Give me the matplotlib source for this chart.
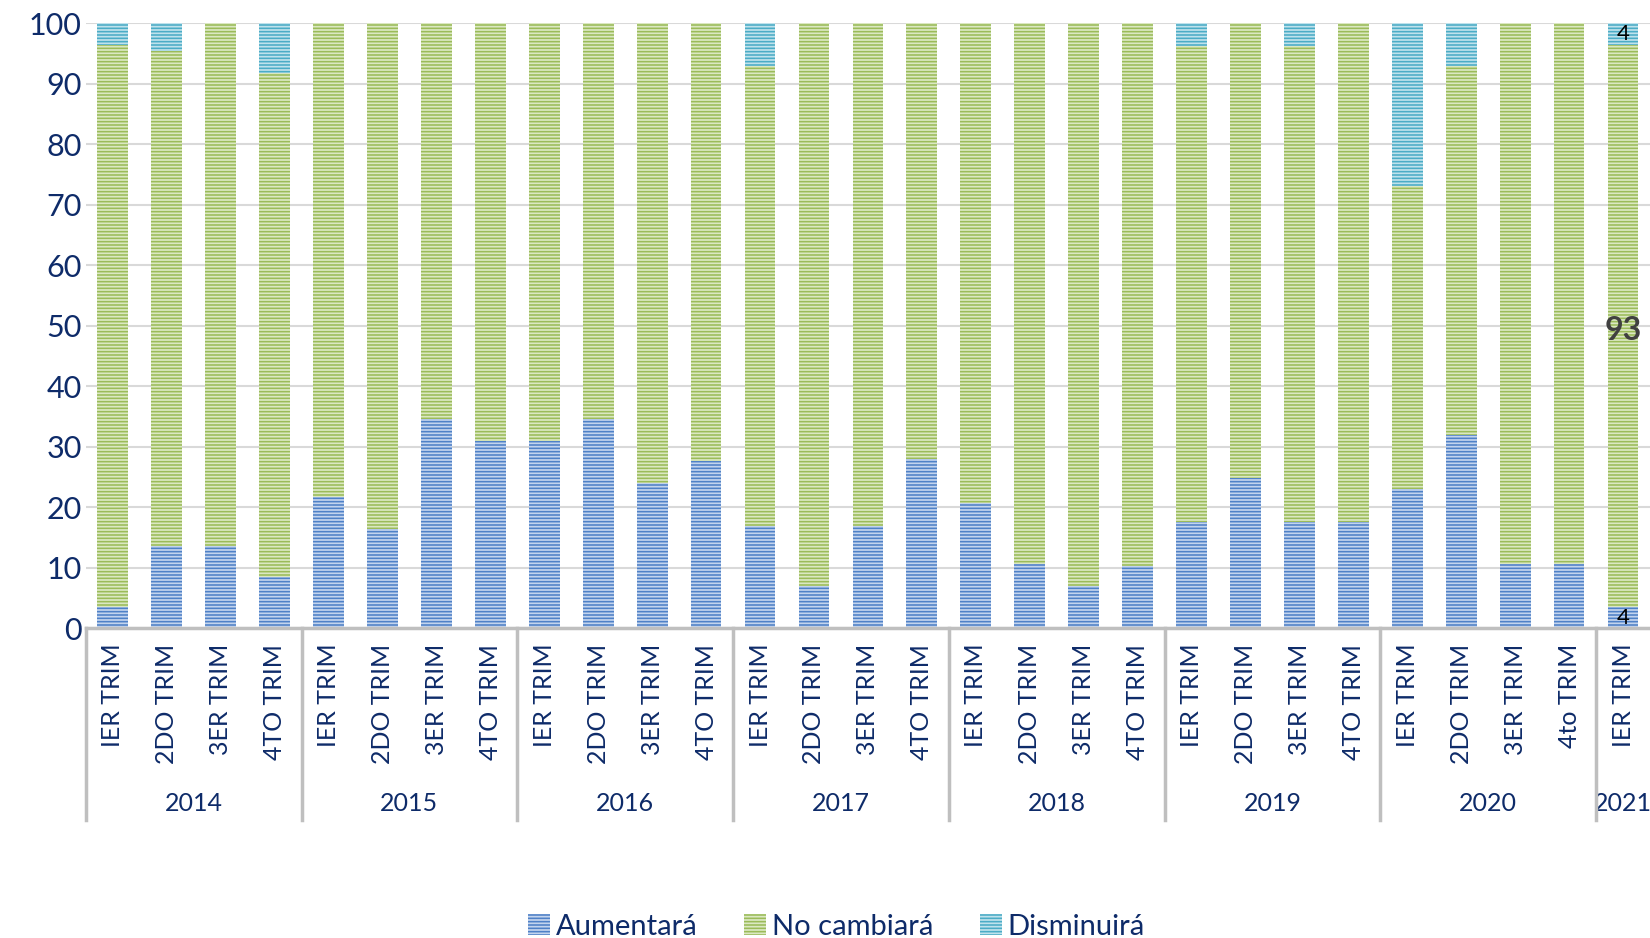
import matplotlib
matplotlib.use('Agg')
import matplotlib.pyplot as plt
from matplotlib.patches import Patch
import numpy as np

plt.rcParams['font.family'] = ['Lato', 'DejaVu Sans']
plt.rcParams['hatch.linewidth'] = 1.15

# data (porcentajes)
years = ['2014', '2015', '2016', '2017', '2018', '2019', '2020', '2021']
quarters = ['IER TRIM', '2DO TRIM', '3ER TRIM', '4TO TRIM'] * 6 + \
           ['IER TRIM', '2DO TRIM', '3ER TRIM', '4to TRIM'] + ['IER TRIM']
group_sizes = [4, 4, 4, 4, 4, 4, 4, 1]

aumentara = [3.5, 13.7, 13.6, 8.5,
             21.7, 16.5, 34.6, 31.0,
             31.0, 34.6, 24.0, 27.7,
             17.0, 7.0, 17.0, 28.0,
             20.7, 10.6, 7.0, 10.3,
             17.6, 24.9, 17.6, 17.6,
             23.1, 32.0, 10.6, 10.6,
             3.5]
disminuira = [3.6, 4.5, 0, 8.2,
              0, 0, 0, 0,
              0, 0, 0, 0,
              7.0, 0, 0, 0,
              0, 0, 0, 0,
              3.7, 0, 3.7, 0,
              26.9, 7.0, 0, 0,
              3.5]
no_cambiara = [100 - a - d for a, d in zip(aumentara, disminuira)]

# etiquetas del ultimo trimestre
last_labels = ['4', '93', '4']

navy = '#0e2b69'
grid_gray = '#d9d9d9'
axis_gray = '#bfbfbf'
series = [
    ('Aumentará', aumentara, '#c3d4ee', '#4f81c7'),
    ('No cambiará', no_cambiara, '#dbe8c2', '#9bbb59'),
    ('Disminuirá', disminuira, '#bfe2ec', '#4bacc6'),
]

fig = plt.figure(figsize=(16.5, 9.38), dpi=100)
ax = fig.add_axes([0.052, 0.330, 0.948, 0.645])

x = np.arange(len(aumentara))
bottom = np.zeros(len(x))
handles = []
for name, vals, face, stripe in series:
    vals = np.array(vals)
    ax.bar(x, vals, 0.57, bottom=bottom, color=face, edgecolor=stripe,
           hatch='-----', linewidth=0, zorder=3)
    handles.append(Patch(facecolor=face, edgecolor=stripe, hatch='-----',
                         linewidth=0, label=name))
    bottom += vals

# etiquetas de datos en la ultima barra
i = len(x) - 1
a, n, d = aumentara[i], no_cambiara[i], disminuira[i]
ax.text(i, a / 2, last_labels[0], ha='center', va='center', fontsize=16,
        color='black', zorder=5)
ax.text(i, a + n / 2 - 0.7, last_labels[1], ha='center', va='center',
        fontsize=23, fontweight='bold', color='#404040', zorder=5)
ax.text(i, a + n + d / 2, last_labels[2], ha='center', va='center',
        fontsize=16, color='black', zorder=5)

ax.set_ylim(0, 100)
ax.set_xlim(-0.5, len(x) - 0.5)
ax.set_yticks(np.arange(0, 101, 10))
ax.yaxis.grid(True, color=grid_gray, linewidth=1.5, zorder=0)
ax.set_axisbelow(True)

for s in ['top', 'right', 'left']:
    ax.spines[s].set_visible(False)
ax.spines['bottom'].set_color(axis_gray)
ax.spines['bottom'].set_linewidth(2.5)
ax.spines['bottom'].set_zorder(4)

ax.set_xticks(x)
ax.set_xticklabels(quarters, rotation=90, va='top', ha='center')
ax.tick_params(axis='x', length=0, pad=11, labelsize=18, labelcolor=navy)
ax.tick_params(axis='y', length=0, pad=3, labelsize=22, labelcolor=navy)

# segundo nivel del eje: años y separadores
trans = ax.get_xaxis_transform()
start = 0
bounds = [-0.5]
for yr, size in zip(years, group_sizes):
    center = start + (size - 1) / 2
    ax.text(center, -0.289, yr, transform=trans, ha='center', va='center',
            fontsize=18, color=navy)
    start += size
    bounds.append(start - 0.5)
for b in bounds[:-1]:
    ax.plot([b, b], [0, -0.316], transform=trans, color=axis_gray,
            linewidth=2.5, clip_on=False, zorder=4)

fig.legend(handles=handles, loc='lower center', bbox_to_anchor=(0.507, -0.03),
           ncol=3, frameon=False, fontsize=21, labelcolor=navy,
           handlelength=0.75, handleheight=0.75, handletextpad=0.2,
           columnspacing=1.6)

fig.savefig('out.png', dpi=100)
